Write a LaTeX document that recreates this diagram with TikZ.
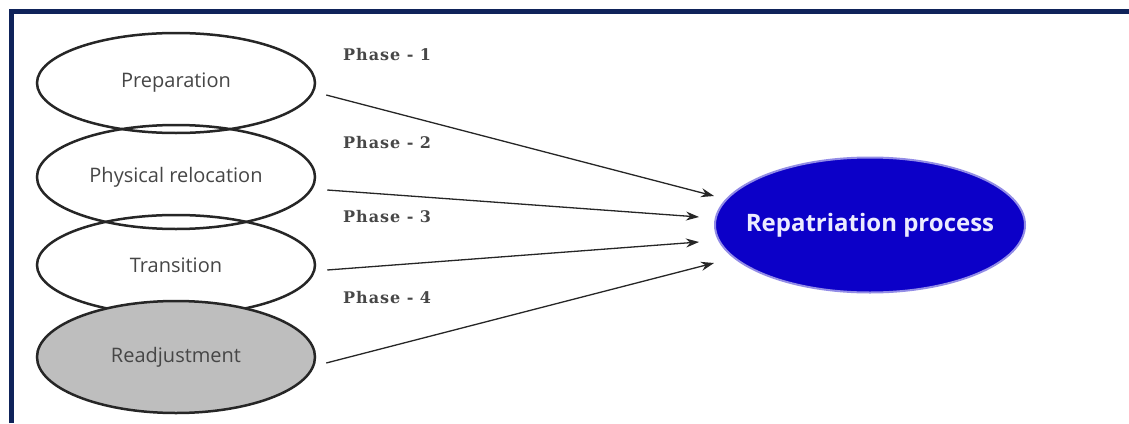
\documentclass[tikz,border=0pt]{standalone}
\usepackage{fontspec}
\setmainfont{Liberation Serif}
\newfontfamily\ellfont{Open Sans}
\newfontfamily\phasefont[LetterSpace=6]{DejaVu Serif}
\usetikzlibrary{shapes.geometric,arrows.meta,calc}
\definecolor{navy}{RGB}{15,35,90}
\definecolor{repblue}{RGB}{12,0,200}
\definecolor{gfill}{RGB}{190,190,190}
\definecolor{txtgray}{RGB}{70,70,70}
\begin{document}
\begin{tikzpicture}[x=1pt,y=-1pt,
  phase/.style={ellipse,draw=black!85,line width=2.5pt,minimum width=278pt,minimum height=100pt,inner sep=0pt,font=\ellfont\fontsize{20}{24}\selectfont,text=txtgray},
  lbl/.style={anchor=west,font=\phasefont\bfseries\fontsize{16}{18}\selectfont,text=black!72,inner sep=0pt},
  arr/.style={-{Stealth[length=13pt,width=9pt]},line width=1.3pt,draw=black!85}]
\useasboundingbox (0,0) rectangle (1129,423);
\fill[white] (0,0) rectangle (1129,423);
\draw[navy,line width=5pt] (11.5,423) -- (11.5,11.5) -- (1129,11.5);
\node[phase] (prep) at (176,83) {Preparation};
\node[phase,minimum height=104pt] (phys) at (176,177) {Physical relocation};
\node[phase] (trans) at (176,265) {Transition};
\node[phase,fill=gfill,minimum height=112pt] (readj) at (176,357) {Readjustment};
\node[ellipse,fill=repblue,draw=repblue!45,line width=2pt,minimum width=310pt,minimum height=135pt,inner xsep=-35pt,inner ysep=0pt,text=white!92!blue,font=\ellfont\bfseries\fontsize{24}{27}\selectfont] (rep) at (870,225) {Repatriation process};
\node[lbl] (l1) at (343,55) {Phase - 1};
\node[lbl] (l2) at (343,143) {Phase - 2};
\node[lbl] (l3) at (343,217) {Phase - 3};
\node[lbl] (l4) at (343,298) {Phase - 4};
\draw[arr] ($(prep.east)+(10,12)$) -- ($(rep.west)+(0,-29)$);
\draw[arr] ($(phys.east)+(11,13)$) -- ($(rep.west)+(-15,-8)$);
\draw[arr] ($(trans.east)+(11,5)$) -- ($(rep.west)+(-15,17)$);
\draw[arr] ($(readj.east)+(10,6)$) -- ($(rep.west)+(0,38)$);
\end{tikzpicture}
\end{document}
